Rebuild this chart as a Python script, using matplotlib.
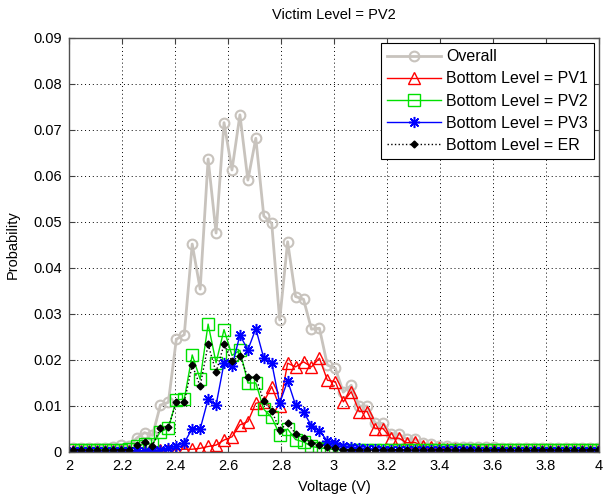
import matplotlib
matplotlib.use("Agg")
import matplotlib.pyplot as plt
import numpy as np

plt.rcParams['font.family'] = ['Liberation Sans', 'DejaVu Sans']

# bin centres: 2.015 V in 0.03 V steps (67 bins)
voltage = np.round(2.015 + 0.03 * np.arange(67), 3)

overall = [0.0009, 0.0009, 0.0009, 0.0009, 0.0009, 0.0010, 0.0016, 0.0012, 0.0030, 0.0042,
           0.0036, 0.0102, 0.0108, 0.0245, 0.0255, 0.0452, 0.0354, 0.0637, 0.0476, 0.0716,
           0.0613, 0.0733, 0.0591, 0.0682, 0.0513, 0.0497, 0.0287, 0.0457, 0.0338, 0.0332,
           0.0267, 0.0269, 0.0189, 0.0182, 0.0130, 0.0145, 0.0100, 0.0100, 0.0063, 0.0062,
           0.0040, 0.0039, 0.0028, 0.0028, 0.0019, 0.0017, 0.0014, 0.0012, 0.0011, 0.0011,
           0.0010, 0.0010, 0.0010, 0.0010, 0.0009, 0.0009, 0.0009, 0.0009, 0.0009, 0.0009,
           0.0009, 0.0009, 0.0009, 0.0009, 0.0009, 0.0009, 0.0009]

pv1 = [0.0002, 0.0002, 0.0002, 0.0002, 0.0002, 0.0002, 0.0002, 0.0002, 0.0003, 0.0003,
       0.0003, 0.0004, 0.0004, 0.0005, 0.0006, 0.0006, 0.0008, 0.0012, 0.0015, 0.0026,
       0.0033, 0.0059, 0.0066, 0.0106, 0.0109, 0.0142, 0.0099, 0.0193, 0.0185, 0.0196,
       0.0185, 0.0204, 0.0156, 0.0153, 0.0109, 0.0131, 0.0088, 0.0088, 0.0051, 0.0051,
       0.0030, 0.0030, 0.0020, 0.0021, 0.0012, 0.0010, 0.0008, 0.0007, 0.0006, 0.0005,
       0.0005, 0.0004, 0.0004, 0.0004, 0.0003, 0.0003, 0.0003, 0.0003, 0.0003, 0.0003,
       0.0002, 0.0002, 0.0002, 0.0002, 0.0002, 0.0002, 0.0002]

pv2 = [0.0005, 0.0005, 0.0005, 0.0005, 0.0005, 0.0005, 0.0005, 0.0006, 0.0012, 0.0018,
       0.0017, 0.0044, 0.0052, 0.0113, 0.0115, 0.0211, 0.0158, 0.0278, 0.0194, 0.0266,
       0.0210, 0.0221, 0.0150, 0.0150, 0.0093, 0.0075, 0.0038, 0.0050, 0.0027, 0.0022,
       0.0012, 0.0009, 0.0007, 0.0005, 0.0005, 0.0005, 0.0005, 0.0005, 0.0005, 0.0005,
       0.0004, 0.0004, 0.0004, 0.0004, 0.0004, 0.0004, 0.0004, 0.0004, 0.0004, 0.0004,
       0.0004, 0.0004, 0.0004, 0.0004, 0.0004, 0.0004, 0.0004, 0.0004, 0.0004, 0.0004,
       0.0004, 0.0004, 0.0004, 0.0004, 0.0004, 0.0004, 0.0004]

pv3 = [0.0002, 0.0002, 0.0002, 0.0002, 0.0002, 0.0002, 0.0002, 0.0002, 0.0002, 0.0003,
       0.0003, 0.0004, 0.0008, 0.0013, 0.0020, 0.0051, 0.0050, 0.0115, 0.0102, 0.0193,
       0.0186, 0.0254, 0.0222, 0.0268, 0.0204, 0.0194, 0.0106, 0.0155, 0.0102, 0.0087,
       0.0057, 0.0046, 0.0024, 0.0019, 0.0013, 0.0010, 0.0008, 0.0007, 0.0006, 0.0005,
       0.0005, 0.0005, 0.0004, 0.0004, 0.0004, 0.0004, 0.0004, 0.0004, 0.0004, 0.0004,
       0.0004, 0.0003, 0.0003, 0.0003, 0.0003, 0.0003, 0.0003, 0.0003, 0.0003, 0.0003,
       0.0003, 0.0003, 0.0003, 0.0003, 0.0003, 0.0003, 0.0003]

er = [0.0005, 0.0005, 0.0005, 0.0005, 0.0005, 0.0005, 0.0005, 0.0005, 0.0015, 0.0022,
      0.0014, 0.0052, 0.0054, 0.0108, 0.0108, 0.0189, 0.0143, 0.0234, 0.0173, 0.0234,
      0.0197, 0.0209, 0.0162, 0.0162, 0.0110, 0.0090, 0.0048, 0.0062, 0.0040, 0.0030,
      0.0020, 0.0015, 0.0010, 0.0008, 0.0005, 0.0005, 0.0005, 0.0005, 0.0005, 0.0005,
      0.0005, 0.0005, 0.0005, 0.0005, 0.0005, 0.0005, 0.0005, 0.0005, 0.0005, 0.0005,
      0.0005, 0.0005, 0.0005, 0.0005, 0.0005, 0.0005, 0.0005, 0.0005, 0.0005, 0.0005,
      0.0005, 0.0005, 0.0005, 0.0005, 0.0005, 0.0005, 0.0005]

fig = plt.figure(figsize=(6.03, 4.98), dpi=100)
ax = fig.add_axes([0.1144, 0.0924, 0.879, 0.8313])

gray = '#c8c3bd'
asterisk = (8, 2, 0)
ax.plot(voltage, overall, '-o', color=gray, lw=2, ms=7, mfc='none', mew=1.5, label='Overall')
ax.plot(voltage, pv1, '-^', color='#ff0000', lw=1, ms=8, mfc='none', mew=1, label='Bottom Level = PV1')
ax.plot(voltage, pv2, '-s', color='#00e000', lw=1, ms=8, mfc='none', mew=1, label='Bottom Level = PV2')
ax.plot(voltage, pv3, '-', marker=asterisk, color='#0000ff', lw=1, ms=8, mew=1.1, label='Bottom Level = PV3')
ax.plot(voltage, er, ':D', color='black', lw=1, ms=3.5, label='Bottom Level = ER')

ax.set_xlim(2, 4)
ax.set_ylim(0, 0.09)
ax.set_xticks(np.arange(2, 4.01, 0.2))
ax.set_xticklabels(['2', '2.2', '2.4', '2.6', '2.8', '3', '3.2', '3.4', '3.6', '3.8', '4'])
ax.set_yticks(np.arange(0, 0.091, 0.01))
ax.set_yticklabels(['0', '0.01', '0.02', '0.03', '0.04', '0.05', '0.06', '0.07', '0.08', '0.09'])
ax.tick_params(direction='in', top=True, right=True, labelsize=10.5, length=4, width=0.8,
               color='#404040', pad=5)
ax.grid(True, linestyle=(0, (1, 3)), color='black', lw=0.7)
for s in ax.spines.values():
    s.set_linewidth(1)
    s.set_color('#505050')

ax.set_xlabel('Voltage (V)', fontsize=10.5, labelpad=5)
ax.set_ylabel('Probability', fontsize=10.5, labelpad=10)
ax.set_title('Victim Level = PV2', fontsize=10.5, pad=14)

leg = ax.legend(loc='upper right', fontsize=11.5, fancybox=False, framealpha=1,
                edgecolor='black', borderaxespad=0.3, handlelength=3.4,
                handletextpad=0.3, labelspacing=0.45, borderpad=0.4)
leg.get_frame().set_linewidth(0.8)

fig.savefig('out.png', dpi=100)
